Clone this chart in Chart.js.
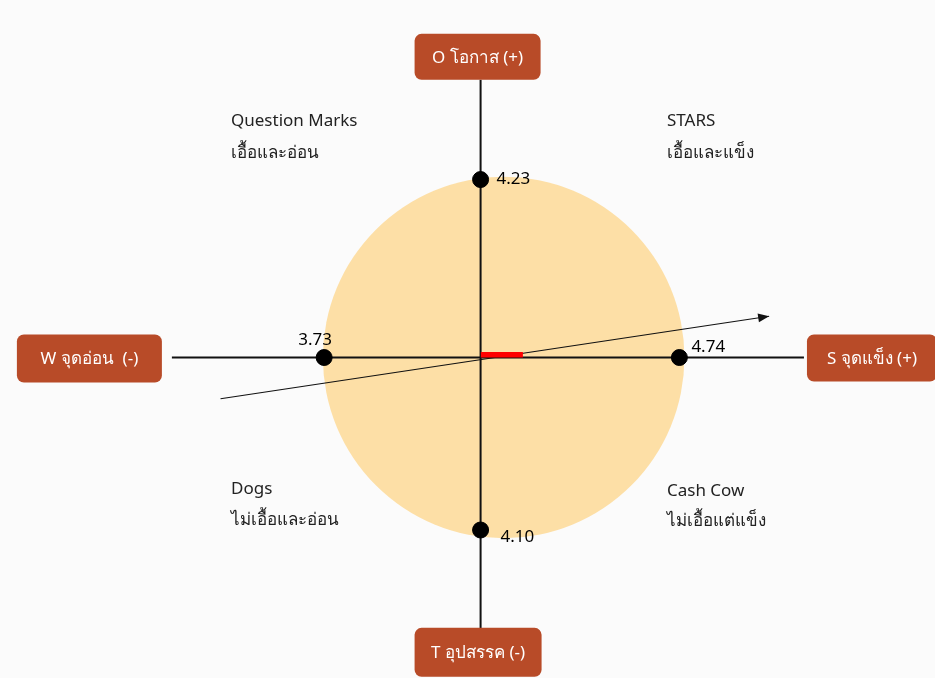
<!DOCTYPE html>
<html>
<head>
<meta charset="utf-8">
<script src="https://cdn.jsdelivr.net/npm/chart.js@4"></script>
<style>
  html, body { margin: 0; padding: 0; background: #fbfbfb; }
  #wrap { width: 935px; height: 678px; position: relative; }
</style>
</head>
<body>
<div id="wrap"><canvas id="swot"></canvas></div>
<script>
// SWOT position chart
const axisLabels = ['S จุดแข็ง (+)', 'W จุดอ่อน  (-)', 'O โอกาส (+)', 'T อุปสรรค (-)'];
const scores = [4.74, 3.73, 4.23, 4.10];            // S, W, O, T
const quadTitles = ['STARS', 'Question Marks', 'Dogs', 'Cash Cow'];
const quadSubtitles = ['เอื้อและแข็ง', 'เอื้อและอ่อน', 'ไม่เอื้อและอ่อน', 'ไม่เอื้อแต่แข็ง'];
const circleCenter = [0.55, 0];
const circleRadius = 4.31;
const hAxisRange = [-7.36, 7.71];
const vAxisRange = [-6.45, 6.6];
const arrowStart = [-6.2, -0.98];
const arrowEnd = [6.88, 0.98];

const [S, W, O, T] = scores;
const netX = +(S - W).toFixed(2);
const netY = +(O - T).toFixed(2);

const FONT = '"Noto Sans", "Open Sans", sans-serif';
const BOX = '#b84b28';

function roundRect(ctx, x, y, w, h, r) {
  ctx.beginPath();
  ctx.moveTo(x + r, y);
  ctx.arcTo(x + w, y, x + w, y + h, r);
  ctx.arcTo(x + w, y + h, x, y + h, r);
  ctx.arcTo(x, y + h, x, y, r);
  ctx.arcTo(x, y, x + w, y, r);
  ctx.closePath();
}

const swotPlugin = {
  id: 'swot',
  beforeDatasetsDraw(chart) {
    const { ctx, scales: { x, y } } = chart;
    const cx = x.getPixelForValue(circleCenter[0]), cy = y.getPixelForValue(circleCenter[1]);
    const r = x.getPixelForValue(circleRadius) - x.getPixelForValue(0);
    ctx.save();
    ctx.fillStyle = '#fddfa6';
    ctx.beginPath();
    ctx.arc(cx, cy, r, 0, Math.PI * 2);
    ctx.fill();
    ctx.restore();
  },
  afterDatasetsDraw(chart) {
    const { ctx, scales: { x, y } } = chart;
    ctx.save();
    // arrow head
    const x1 = x.getPixelForValue(arrowStart[0]), y1 = y.getPixelForValue(arrowStart[1]);
    const x2 = x.getPixelForValue(arrowEnd[0]), y2 = y.getPixelForValue(arrowEnd[1]);
    const ang = Math.atan2(y2 - y1, x2 - x1);
    ctx.fillStyle = '#111';
    ctx.beginPath();
    ctx.moveTo(x2, y2);
    ctx.lineTo(x2 - 11 * Math.cos(ang) + 4.5 * Math.sin(ang), y2 - 11 * Math.sin(ang) - 4.5 * Math.cos(ang));
    ctx.lineTo(x2 - 11 * Math.cos(ang) - 4.5 * Math.sin(ang), y2 - 11 * Math.sin(ang) + 4.5 * Math.cos(ang));
    ctx.closePath();
    ctx.fill();

    // value labels
    ctx.font = '17px ' + FONT;
    ctx.fillStyle = '#000';
    ctx.textBaseline = 'middle';
    const pts = [[S, 0], [-W, 0], [0, O], [0, -T]];
    const offs = [[12, -10, 'left'], [-9, -17, 'center'], [16, 0, 'left'], [20, 7, 'left']];
    pts.forEach((p, i) => {
      ctx.textAlign = offs[i][2];
      ctx.fillText(scores[i].toFixed(2), x.getPixelForValue(p[0]) + offs[i][0], y.getPixelForValue(p[1]) + offs[i][1]);
    });

    // axis label boxes
    const hl = x.getPixelForValue(hAxisRange[0]), hr = x.getPixelForValue(hAxisRange[1]);
    const vt = y.getPixelForValue(vAxisRange[1]), vb = y.getPixelForValue(vAxisRange[0]);
    const cx = x.getPixelForValue(0), cy = y.getPixelForValue(0);
    const boxes = [
      [hr + 3, cy - 23, 130, 47],     // S
      [hl - 155, cy - 23, 145, 48],   // W
      [cx - 66, vt - 46, 126, 46],    // O
      [cx - 66, vb - 1, 127, 49]      // T
    ];
    ctx.font = '17px ' + FONT;
    ctx.textAlign = 'center';
    boxes.forEach((b, i) => {
      ctx.fillStyle = BOX;
      roundRect(ctx, b[0], b[1], b[2], b[3], 7);
      ctx.fill();
      ctx.fillStyle = '#fff';
      ctx.fillText(axisLabels[i], b[0] + b[2] / 2, b[1] + b[3] / 2 + 1);
    });

    // quadrant captions
    ctx.fillStyle = '#222';
    ctx.textAlign = 'left';
    const quadPos = [[667, 121, 153], [231, 121, 153], [231, 489, 520], [667, 491, 521]];
    quadPos.forEach((q, i) => {
      ctx.fillText(quadTitles[i], q[0], q[1]);
      ctx.fillText(quadSubtitles[i], q[0], q[2]);
    });
    ctx.restore();
  }
};

new Chart(document.getElementById('swot'), {
  type: 'scatter',
  data: {
    datasets: [
      {
        label: 'scores',
        data: [{ x: S, y: 0 }, { x: -W, y: 0 }, { x: 0, y: O }, { x: 0, y: -T }],
        backgroundColor: '#000',
        borderColor: '#000',
        pointRadius: 8,
        order: 0
      },
      {
        label: 'net',
        type: 'line',
        data: [{ x: 0, y: netY }, { x: netX, y: netY }],
        borderWidth: 0,
        pointRadius: 0,
        backgroundColor: '#ff0000',
        fill: { value: 0 },
        order: 1
      },
      {
        label: 'direction',
        type: 'line',
        data: [{ x: arrowStart[0], y: arrowStart[1] }, { x: arrowEnd[0], y: arrowEnd[1] }],
        borderColor: '#111',
        borderWidth: 1.2,
        pointRadius: 0,
        order: 2
      },
      {
        label: 'h-axis',
        type: 'line',
        data: [{ x: hAxisRange[0], y: 0 }, { x: hAxisRange[1], y: 0 }],
        borderColor: '#111',
        borderWidth: 2,
        pointRadius: 0,
        order: 3
      },
      {
        label: 'v-axis',
        type: 'line',
        data: [{ x: 0, y: vAxisRange[0] }, { x: 0, y: vAxisRange[1] }],
        borderColor: '#111',
        borderWidth: 2,
        pointRadius: 0,
        order: 3
      }
    ]
  },
  options: {
    responsive: true,
    maintainAspectRatio: false,
    animation: false,
    layout: { padding: { left: 10, right: 5, top: 10, bottom: 10 } },
    scales: {
      x: { type: 'linear', min: -11.22, max: 10.62, display: false },
      y: { type: 'linear', min: -7.38, max: 8.26, display: false }
    },
    plugins: {
      legend: { display: false },
      tooltip: { enabled: false }
    }
  },
  plugins: [swotPlugin]
});
</script>
</body>
</html>
